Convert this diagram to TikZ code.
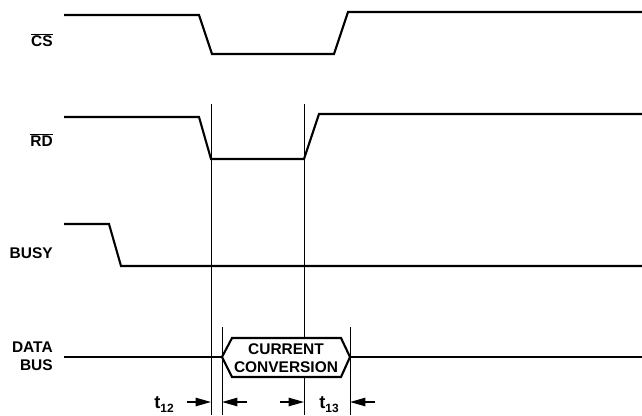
\documentclass[tikz,border=0pt]{standalone}
\usepackage{fontspec}
\setmainfont{Liberation Sans}
\usetikzlibrary{arrows.meta}
\newcommand\SigName[3]{%
    \node[signame] (#1) at (53,#2) {#3};
}
\newcommand\Marker[3]{%
    \coordinate (#1) at (#2,402);
    \draw[marker] (#2,#3) -- (#2,415);
}
\newcommand\TimeSub[1]{\raisebox{-0.45ex}{\fontsize{8.5}{9}\selectfont #1}}

\begin{document}
\begin{tikzpicture}[x=0.025cm,y=-0.025cm,
    signal/.style={line width=1.5pt,line join=miter},
    marker/.style={line width=0.6pt},
    gap/.style={line width=0.9pt,-{Triangle[length=11pt,width=6pt]}},
    signame/.style={anchor=east,inner sep=0pt,align=right,
        font=\fontsize{11}{12.5}\selectfont\bfseries},
    timename/.style={anchor=base east,inner sep=0pt,
        font=\fontsize{13}{14}\selectfont\bfseries}]
    \useasboundingbox (0,0) rectangle (642,415);
    % signal names
    \SigName{cs}{40}{$\overline{\mbox{\bfseries CS}}$}
    \SigName{rd}{140}{$\overline{\mbox{\bfseries RD}}$}
    \SigName{busy}{253}{BUSY}
    \SigName{bus}{356}{DATA\\BUS}
    % timing markers
    \Marker{mA}{211}{104}
    \Marker{mB}{222}{327}
    \Marker{mC}{304}{104}
    \Marker{mD}{350}{327}
    % waveforms
    \draw[signal] (64,15) -- (199,15) -- (212,54) -- (334,54) -- (348,12) -- (642,12);
    \draw[signal] (64,117) -- (199,117) -- (211,159) -- (304,159) -- (319,114) -- (642,114);
    \draw[signal] (64,224) -- (109,224) -- (121,266) -- (642,266);
    \draw[signal] (64,357) -- (mB |- 0,357) coordinate(open);
    \draw[signal,fill=white] (open) -- (232,338) -- (341,338) -- (mD |- 0,357) coordinate(close)
        -- (341,377) -- (232,377) -- cycle;
    \draw[signal] (close) -- (642,357);
    \node[signame,anchor=center,align=center] (conv) at (286,358) {CURRENT\\CONVERSION};
    % t12
    \node[timename] (t12) at (174,408) {t\TimeSub{12}};
    \draw[gap] (187,402) -- (mA);
    \draw[gap] (247,402) -- (mB);
    % t13
    \node[timename] (t13) at (339,408) {t\TimeSub{13}};
    \draw[gap] (280,402) -- (mC);
    \draw[gap] (375,402) -- (mD);
\end{tikzpicture}
\end{document}
